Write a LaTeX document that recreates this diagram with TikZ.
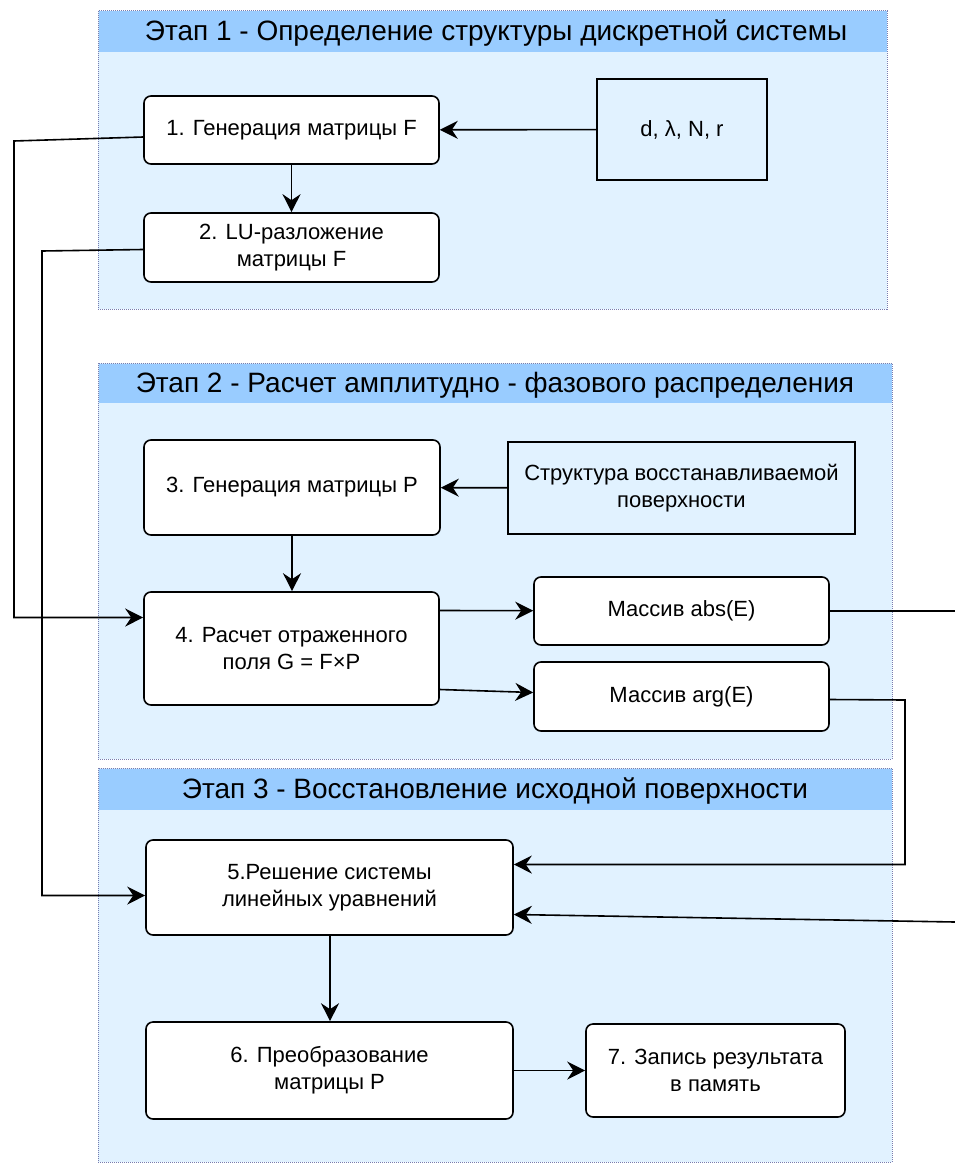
\documentclass[tikz,border=0pt]{standalone}
\usepackage{fontspec}
\setmainfont{Liberation Sans}
\usetikzlibrary{arrows.meta, positioning, calc}
\definecolor{headblue}{RGB}{153, 204, 255}
\definecolor{bodyblue}{RGB}{225, 242, 255}
\definecolor{dotgray}{RGB}{120, 125, 175}

\begin{document}
\begin{tikzpicture}[x=1pt, y=-1pt,
  block/.style={rectangle, rounded corners=7pt, draw, line width=1.6pt, fill=white,
    align=center, inner sep=0pt, font=\fontsize{22}{27}\selectfont},
  datablock/.style={rectangle, draw, line width=1.6pt, align=center, inner sep=0pt,
    font=\fontsize{22}{27}\selectfont},
  arrow/.style={-{Stealth[length=18pt, width=18pt, inset=6pt]}, line width=1.6pt},
  link/.style={line width=1.6pt},
  stagebox/.style={draw=dotgray, densely dotted, line width=1pt, fill=bodyblue},
  stagetitle/.style={font=\fontsize{28}{32}\selectfont, inner sep=0pt}
]
\useasboundingbox (0,0) rectangle (955,1164);

% Stage 1: structure of the discrete system
\filldraw[stagebox] (98,11) rectangle (887,309);
\fill[headblue] (98.5,11.5) rectangle (886.5,52);
\node[stagetitle] (title1) at (496,33) {Этап 1 - Определение структуры дискретной системы};
\node[block, minimum width=295pt, minimum height=68pt] (genF) at (291.5,130) {1. Генерация матрицы F};
\node[block, minimum width=295pt, minimum height=69pt] (luF) at (291.5,247.5) {2. LU-разложение\\матрицы F};
\node[datablock, minimum width=170pt, minimum height=101pt] (params) at (682,129.5) {d, λ, N, r};

% Stage 2: amplitude-phase distribution
\filldraw[stagebox] (98,363) rectangle (892,759);
\fill[headblue] (98.5,363.5) rectangle (891.5,403);
\node[stagetitle] (title2) at (495,385) {Этап 2 - Расчет амплитудно - фазового распределения};
\node[block, minimum width=296pt, minimum height=95pt] (genP) at (292,487.5) {3. Генерация матрицы P};
\node[datablock, minimum width=347pt, minimum height=92pt] (surf) at (681.5,488) {Структура восстанавливаемой\\поверхности};
\node[block, minimum width=295pt, minimum height=113pt] (field) at (291.5,648.5) {4. Расчет отраженного\\поля G = F×P};
\node[block, minimum width=295pt, minimum height=68pt] (absE) at (681.5,611) {Массив abs(E)};
\node[block, minimum width=295pt, minimum height=69pt] (argE) at (681.5,696.5) {Массив arg(E)};

% Stage 3: surface recovery
\filldraw[stagebox] (98,768) rectangle (892,1162);
\fill[headblue] (98.5,768.5) rectangle (891.5,810);
\node[stagetitle] (title3) at (495,791) {Этап 3 - Восстановление исходной поверхности};
\node[block, minimum width=367pt, minimum height=95pt] (solve) at (329.5,887.5) {5.Решение системы\\линейных уравнений};
\node[block, minimum width=367pt, minimum height=97pt] (convP) at (329.5,1070.5) {6. Преобразование\\матрицы P};
\node[block, minimum width=259pt, minimum height=93pt] (store) at (715.5,1070.5) {7. Запись результата\\в память};

% free ends at the right edge
\coordinate (absout) at (955,611);
\coordinate (absin) at (955,922);

% Arrows
\draw[arrow] (params) -- (genF);
\draw[arrow] (genF) -- (luF);
\draw[arrow] (surf) -- (genP);
\draw[arrow] (genP) -- (genP |- field.north);
\draw[arrow] ([yshift=-7pt]genF.west) -- (14,141) |- ([yshift=31pt]field.west);
\draw[arrow] ([yshift=-2pt]luF.west) -- (42,251) |- ([yshift=-8pt]solve.west);
\draw[arrow] ([yshift=38pt]field.east) -- (absE);
\draw[arrow] ([yshift=-41pt]field.east) -- ([yshift=4pt]argE.west);
\draw[link] (absE) -- (absout);
\draw[arrow] ([yshift=-3pt]argE.east) -- (905,700) |- ([yshift=23pt]solve.east);
\draw[arrow] (absin) -- ([yshift=-27pt]solve.east);
\draw[arrow] (solve.south -| 330,0) -- (convP.north -| 330,0);
\draw[arrow] (convP) -- (store);

\end{tikzpicture}
\end{document}
